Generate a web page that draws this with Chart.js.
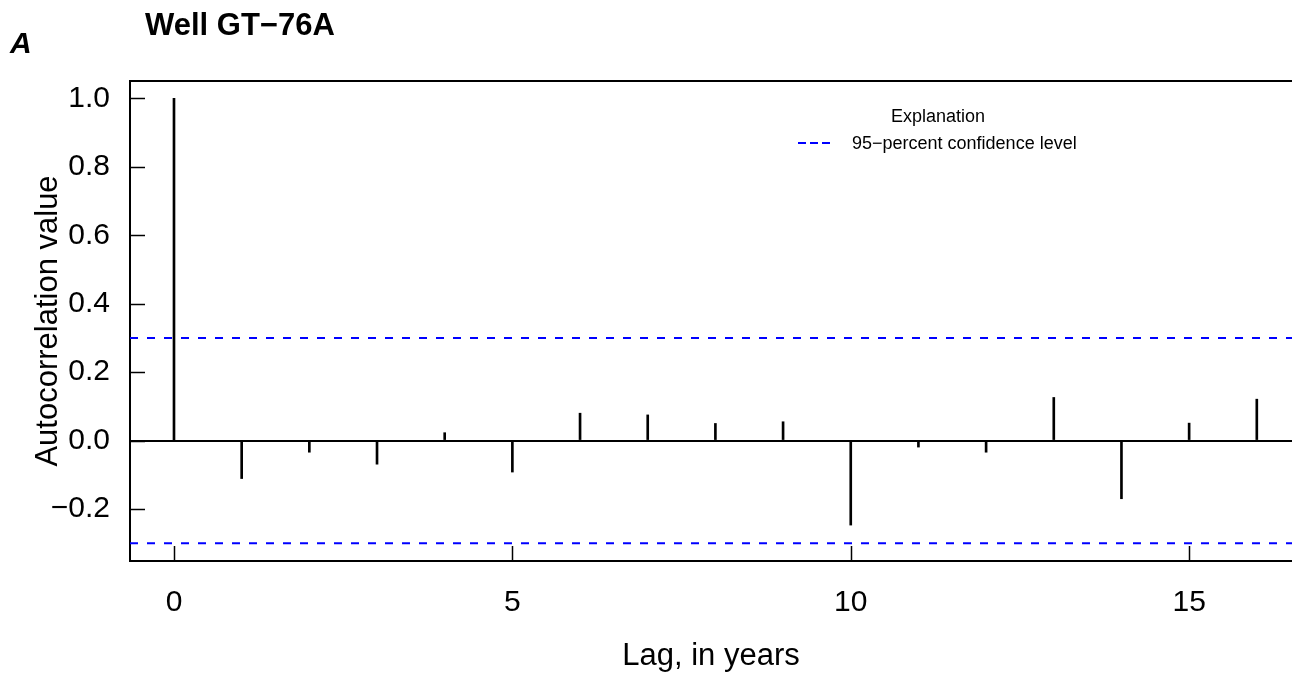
<!DOCTYPE html>
<html>
<head>
<meta charset="utf-8">
<script src="https://cdn.jsdelivr.net/npm/chart.js@4"></script>
<style>
  html, body { margin: 0; padding: 0; background: #fff; }
</style>
</head>
<body>
<canvas id="myChart" width="1292" height="681"></canvas>
<script>
// autocorrelation by lag (years)
const lags = [0, 1, 2, 3, 4, 5, 6, 7, 8, 9, 10, 11, 12, 13, 14, 15, 16];
const acf = [1.0, -0.111, -0.034, -0.069, 0.023, -0.092, 0.080, 0.075, 0.050, 0.055,
             -0.247, -0.019, -0.034, 0.126, -0.170, 0.051, 0.121];
const confLevel = 0.3;
const xTicks = [0, 5, 10, 15];
const yTicks = [-0.2, 0.0, 0.2, 0.4, 0.6, 0.8, 1.0];
const xRange = [-0.65, 16.52];
const yRange = [-0.352, 1.051];

const FONT = "'Liberation Sans', Arial, sans-serif";

const fmt = v => (v < 0 ? '\u2212' : '') + Math.abs(v).toFixed(1);

// extra drawing: box top, inward ticks, titles, legend
const decor = {
  id: 'decor',
  afterDatasetsDraw(chart) {
    const { ctx, chartArea: { left, right, top, bottom }, scales: { x, y } } = chart;
    ctx.save();
    ctx.strokeStyle = '#000';
    ctx.lineWidth = 2;
    ctx.beginPath();
    ctx.moveTo(left, top);
    ctx.lineTo(right, top);
    ctx.stroke();

    ctx.lineWidth = 1.5;
    yTicks.forEach(v => {
      const py = Math.round(y.getPixelForValue(v)) + 0.5;
      ctx.beginPath();
      ctx.moveTo(left, py);
      ctx.lineTo(left + 15, py);
      ctx.stroke();
    });
    xTicks.forEach(v => {
      const px = Math.round(x.getPixelForValue(v)) + 0.5;
      ctx.beginPath();
      ctx.moveTo(px, bottom);
      ctx.lineTo(px, bottom - 15);
      ctx.stroke();
    });

    // titles
    ctx.fillStyle = '#000';
    ctx.textBaseline = 'alphabetic';
    ctx.textAlign = 'left';
    ctx.font = 'bold 31px ' + FONT;
    ctx.fillText('Well GT\u221276A', 145, 35);
    ctx.font = 'italic bold 30px ' + FONT;
    ctx.fillText('A', 10, 53);

    // legend
    ctx.font = '18px ' + FONT;
    ctx.textAlign = 'center';
    ctx.fillText('Explanation', 938, 122);
    ctx.textAlign = 'left';
    ctx.fillText('95\u2212percent confidence level', 852, 149);
    ctx.strokeStyle = '#0000ff';
    ctx.lineWidth = 2;
    ctx.setLineDash([8, 4]);
    ctx.beginPath();
    ctx.moveTo(798, 143);
    ctx.lineTo(831, 143);
    ctx.stroke();
    ctx.restore();
  }
};

const ctx = document.getElementById('myChart').getContext('2d');
new Chart(ctx, {
  type: 'bar',
  data: {
    datasets: [
      {
        type: 'bar',
        data: lags.map((l, i) => ({ x: l, y: acf[i] })),
        backgroundColor: '#000',
        borderWidth: 0,
        barThickness: 2,
        order: 1
      },
      {
        type: 'line',
        data: [{ x: xRange[0], y: confLevel }, { x: xRange[1], y: confLevel }],
        borderColor: '#0000ff',
        borderWidth: 2,
        borderDash: [8, 9],
        pointRadius: 0,
        order: 0
      },
      {
        type: 'line',
        data: [{ x: xRange[0], y: -confLevel }, { x: xRange[1], y: -confLevel }],
        borderColor: '#0000ff',
        borderWidth: 2,
        borderDash: [8, 9],
        pointRadius: 0,
        order: 0
      }
    ]
  },
  options: {
    responsive: false,
    animation: false,
    devicePixelRatio: 1,
    layout: { padding: { top: 81, right: 0, left: 0, bottom: 0 } },
    plugins: {
      legend: { display: false },
      tooltip: { enabled: false }
    },
    scales: {
      x: {
        type: 'linear',
        min: xRange[0],
        max: xRange[1],
        offset: false,
        afterBuildTicks: s => { s.ticks = xTicks.map(v => ({ value: v })); },
        afterFit: s => { s.height = 120; },
        grid: { display: false, drawTicks: false },
        border: { display: true, color: '#000', width: 2 },
        ticks: {
          autoSkip: false,
          maxRotation: 0,
          padding: 24,
          color: '#000',
          font: { family: FONT, size: 30 }
        },
        title: {
          display: true,
          text: 'Lag, in years',
          color: '#000',
          font: { family: FONT, size: 31 },
          padding: { top: 0, bottom: 6 }
        }
      },
      y: {
        min: yRange[0],
        max: yRange[1],
        afterBuildTicks: s => { s.ticks = yTicks.map(v => ({ value: v })); },
        afterFit: s => { s.width = 130; },
        grid: {
          drawTicks: false,
          lineWidth: 2,
          color: c => (c.tick && c.tick.value === 0 ? '#000' : 'rgba(0,0,0,0)')
        },
        border: { display: true, color: '#000', width: 2 },
        ticks: {
          padding: 20,
          color: '#000',
          font: { family: FONT, size: 30 },
          callback: v => fmt(v)
        },
        title: {
          display: true,
          text: 'Autocorrelation value',
          color: '#000',
          font: { family: FONT, size: 31 },
          padding: { top: 30, bottom: 0 }
        }
      }
    }
  },
  plugins: [decor]
});
</script>
</body>
</html>
